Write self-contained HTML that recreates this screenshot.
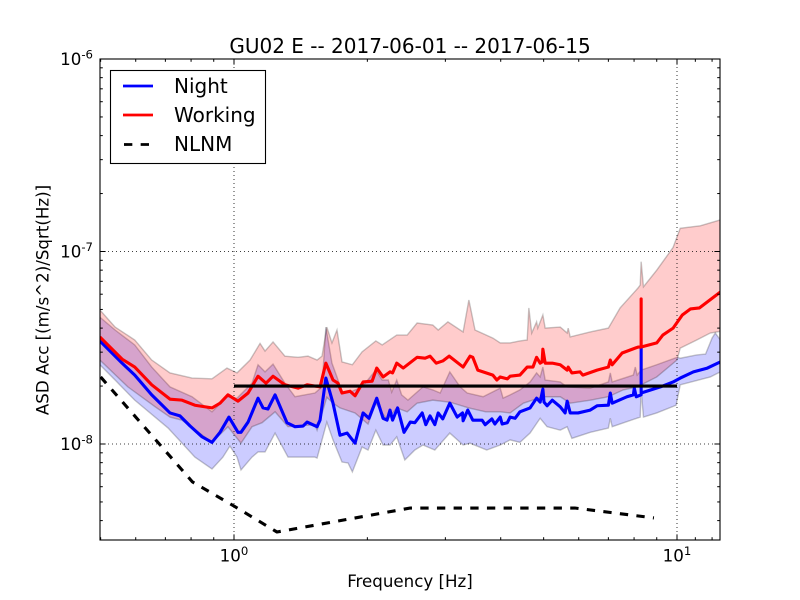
<!DOCTYPE html>
<html lang="en">
<head>
<meta charset="utf-8">
<title>GU02 E ASD chart</title>
<style>
  html, body { margin: 0; padding: 0; background: #fff; }
  svg { display: block; font-family: "DejaVu Sans", "Liberation Sans", sans-serif; }
  text { fill: #000; }
</style>
</head>
<body>
<svg id="chart" xmlns="http://www.w3.org/2000/svg" width="800" height="600" viewBox="0 0 800 600">
  <rect x="0" y="0" width="800" height="600" fill="#fff"/>
  <defs>
    <clipPath id="plot-clip"><rect x="100" y="59" width="620" height="481"/></clipPath>
  </defs>
  <g id="bands" clip-path="url(#plot-clip)"></g>
  <g id="grid"></g>
  <g id="lines" clip-path="url(#plot-clip)"></g>
  <g id="ticks"></g>
  <rect x="100" y="59" width="620" height="481" fill="none" stroke="#000" stroke-width="1.1"/>
  <g id="tick-labels"></g>
  <text x="410" y="53" font-size="20" text-anchor="middle">GU02 E -- 2017-06-01 -- 2017-06-15</text>
  <text x="410" y="587" font-size="16.67" text-anchor="middle">Frequency [Hz]</text>
  <text x="0" y="0" font-size="16.67" text-anchor="middle" transform="translate(48.5 300) rotate(-90)">ASD Acc [(m/s^2)/Sqrt(Hz)]</text>
  <g>
    <rect x="110.5" y="70.5" width="155" height="93" fill="#fff" stroke="#000" stroke-width="1.1"/>
    <line x1="123" x2="153" y1="86" y2="86" stroke="#0000ff" stroke-width="2.8"/>
    <text x="174" y="93" font-size="20">Night</text>
    <line x1="123" x2="153" y1="115" y2="115" stroke="#ff0000" stroke-width="2.8"/>
    <text x="174" y="122" font-size="20">Working</text>
    <line x1="124" x2="153" y1="144.5" y2="144.5" stroke="#000" stroke-width="2.8" stroke-dasharray="8.33 8.33"/>
    <text x="174" y="151" font-size="20">NLNM</text>
  </g>
</svg>
<script>
// All ASD values are in units of 1e-8 (m/s^2)/Sqrt(Hz); frequencies are in Hz.
const UNIT = 1e-8;

const workingUpperFreq = [0.498,0.539,0.597,0.652,0.717,0.804,0.892,0.964,1.016,1.087,1.145,1.175,1.225,1.303,1.395,1.469,1.54,1.58,1.62,1.664,1.708,1.753,1.85,1.946,2.09,2.16,2.33,2.46,2.59,2.81,2.89,3.04,3.29,3.39,3.5,3.84,3.99,4.2,4.42,4.59,4.63,4.7,4.82,4.85,4.98,5.04,5.45,5.65,5.68,5.74,6.37,7.0,7.44,8.17,8.26,8.3,8.4,9.0,9.8,10.17,11.29,12.53];
const workingUpperAsd = [4.97,4.05,3.47,2.73,2.34,2.2,2.18,2.48,2.34,2.73,3.33,3.04,3.39,2.86,2.82,2.86,2.73,2.86,4.05,3.35,3.91,2.67,2.58,3.01,3.43,3.27,3.68,3.68,4.25,4.15,3.91,4.31,3.82,5.6,3.91,3.55,3.35,3.35,3.43,3.47,5.09,3.77,4.31,4.0,4.68,4.0,4.05,3.77,4.0,3.6,3.82,4.0,5.09,6.47,6.7,8.85,6.55,8.0,10.5,13.2,13.6,14.6];

const workingLowerFreq = [0.498,0.576,0.664,0.717,0.763,0.892,0.969,1.037,1.098,1.157,1.238,1.324,1.523,1.54,1.62,1.673,1.735,1.876,2.007,2.09,2.215,2.33,2.46,2.59,2.81,3.07,3.39,3.7,3.99,4.2,4.5,4.98,5.45,5.74,6.37,7.0,7.56,8.13,9.0,10,10.17,11.08,11.89,12.53];
const workingLowerAsd = [2.73,1.98,1.56,1.38,1.33,1.02,1.23,1.01,1.23,1.29,1.47,1.23,1.26,1.18,1.75,1.63,1.54,1.45,1.27,1.63,1.33,1.54,1.47,1.63,1.69,1.65,1.54,1.47,1.47,1.45,1.63,1.76,1.76,1.63,1.69,1.76,1.91,1.98,2.23,2.73,3.15,3.47,3.77,3.85];

const nightUpperFreq = [0.498,0.539,0.597,0.652,0.717,0.804,0.892,0.964,1.016,1.098,1.133,1.175,1.225,1.303,1.373,1.523,1.58,1.612,1.664,1.708,1.753,1.828,1.946,2.09,2.16,2.23,2.27,2.33,2.39,2.47,2.67,2.81,2.92,3.07,3.24,3.36,3.65,3.99,4.05,4.2,4.42,4.66,4.82,4.91,4.98,5.04,5.45,5.65,6.37,7.0,7.07,7.14,7.97,8.05,8.13,8.3,9.0,10,10.17,11.08,11.6,12.0,12.2,12.53];
const nightUpperAsd = [4.56,3.91,3.27,2.51,1.98,1.76,1.47,1.76,1.73,2.07,2.58,2.37,2.6,2.07,1.76,1.84,1.98,4.05,2.63,2.23,1.86,1.86,1.98,2.42,2.15,2.15,1.86,2.15,1.8,1.69,1.98,1.91,1.84,2.37,1.98,1.84,1.76,1.95,1.73,1.8,1.91,2.1,2.34,2.23,2.51,2.15,2.1,1.98,1.95,2.1,2.34,2.1,2.28,2.51,2.28,2.42,2.58,2.82,2.79,2.9,2.93,3.55,3.77,3.47];

const nightLowerFreq = [0.498,0.539,0.597,0.71,0.816,0.892,0.944,0.979,1.016,1.037,1.098,1.133,1.175,1.238,1.324,1.523,1.54,1.58,1.62,1.673,1.753,1.809,1.85,1.946,2.007,2.09,2.17,2.25,2.33,2.43,2.56,2.67,2.84,3.07,3.29,3.41,3.72,3.99,4.2,4.42,4.66,4.91,5.09,5.45,5.65,5.79,6.37,7.0,7.07,7.14,8.26,8.3,8.4,9.0,9.95,10.17,11.89,12.53];
const nightLowerAsd = [2.58,2.15,1.69,1.21,0.855,0.742,0.855,0.976,0.855,0.733,0.855,0.909,0.909,1.14,0.855,0.855,0.845,1.05,1.3,1.05,0.806,0.797,0.716,0.965,0.931,1.18,0.988,0.988,1.09,0.826,0.931,0.988,0.931,1.14,0.988,1.01,0.931,0.988,1.05,1.02,1.14,1.36,1.23,1.18,1.23,1.07,1.15,1.21,1.36,1.23,1.38,1.91,1.38,1.45,1.59,2.03,2.23,2.37];

const workingMedianFreq = [0.498,0.559,0.597,0.652,0.717,0.763,0.816,0.892,0.93,0.969,1.021,1.076,1.133,1.181,1.225,1.303,1.395,1.462,1.564,1.612,1.673,1.717,1.753,1.828,1.876,1.956,2.05,2.1,2.17,2.25,2.28,2.33,2.41,2.59,2.7,2.77,2.86,2.96,3.06,3.29,3.41,3.46,3.55,3.84,3.92,3.99,4.14,4.2,4.42,4.59,4.73,4.82,4.91,4.96,4.98,5.04,5.23,5.45,5.65,5.68,5.79,6.04,6.13,6.6,7.0,7.07,7.14,7.52,8.17,8.3,8.3,8.3,9.0,9.29,9.8,10.28,10.72,11.23,12.53];
const workingMedianAsd = [3.6,2.76,2.51,2.03,1.71,1.69,1.59,1.54,1.63,1.8,1.67,1.84,2.25,2.07,2.25,2.03,1.95,2.03,1.98,2.63,2.15,2.07,1.84,1.88,1.78,2.1,2.12,2.48,2.23,2.37,2.34,2.63,2.48,2.82,2.79,2.86,2.63,2.7,2.86,2.51,2.86,2.82,2.42,2.28,2.15,2.23,2.18,2.25,2.28,2.51,2.51,2.82,2.63,2.67,3.11,2.63,2.63,2.58,2.42,2.51,2.34,2.37,2.28,2.42,2.51,2.73,2.58,2.97,3.19,3.19,5.67,3.19,3.35,3.68,4.0,4.68,5.03,5.09,6.16];

const nightMedianFreq = [0.498,0.559,0.597,0.652,0.681,0.717,0.755,0.796,0.847,0.892,0.93,0.974,1.021,1.037,1.076,1.133,1.163,1.193,1.238,1.317,1.373,1.432,1.462,1.54,1.564,1.612,1.673,1.735,1.8,1.876,1.956,2.017,2.1,2.17,2.215,2.25,2.28,2.34,2.42,2.5,2.56,2.66,2.71,2.77,2.84,2.89,2.96,3.07,3.19,3.28,3.29,3.37,3.46,3.63,3.69,3.82,3.88,3.99,4.03,4.14,4.2,4.31,4.42,4.66,4.82,4.91,4.98,5.01,5.09,5.23,5.45,5.59,5.65,5.74,5.98,6.37,6.6,7.0,7.07,7.14,7.71,7.97,8.01,8.09,8.3,8.3,8.3,9.17,9.8,10.17,10.89,11.71,12.53];
const nightMedianAsd = [3.43,2.63,2.28,1.8,1.63,1.45,1.4,1.24,1.09,1.02,1.15,1.38,1.15,1.15,1.3,1.73,1.54,1.52,1.8,1.29,1.23,1.24,1.3,1.23,1.33,2.2,1.63,1.11,1.14,1.01,1.45,1.36,1.73,1.36,1.33,1.5,1.33,1.54,1.15,1.3,1.29,1.45,1.26,1.4,1.26,1.45,1.35,1.63,1.38,1.45,1.32,1.5,1.33,1.33,1.26,1.35,1.27,1.38,1.27,1.29,1.38,1.36,1.47,1.54,1.73,1.65,1.93,1.65,1.58,1.69,1.56,1.45,1.67,1.45,1.45,1.5,1.58,1.59,1.84,1.63,1.76,1.8,1.95,1.76,1.8,3.15,1.84,1.98,2.1,2.2,2.37,2.48,2.67];

const nlnmFreq = [0.5,0.806,1.0,1.25,2.5,5.88,8.87];
const nlnmAsd = [2.23,0.635,0.476,0.349,0.465,0.465,0.413];

const referenceFreq = [1,10];
const referenceAsd = [2,2];

const xMajorTicks = [1,10];
const xMinorTicks = [0.5,0.6,0.7,0.8,0.9,2,3,4,5,6,7,8,9,11,12];
const xTickExponents = ["0","1"];
const yMajorTicks = [1e-8,1e-7,1e-6];
const yMinorTicks = [4e-9,5e-9,6e-9,7e-9,8e-9,9e-9,2e-8,3e-8,4e-8,5e-8,6e-8,7e-8,8e-8,9e-8,2e-7,3e-7,4e-7,5e-7,6e-7,7e-7,8e-7,9e-7];
const yTickExponents = ["-8","-7","-6"];

const AX = { left: 100, right: 720, top: 59, bottom: 540 };
const xScale = f => 234 + 443 * Math.log10(f);
const yScale = v => 444 - 192.5 * (Math.log10(v) + 8);
const yData = v => yScale(v * UNIT);

const NS = "http://www.w3.org/2000/svg";
function make(tag, parent, attrs) {
  const el = document.createElementNS(NS, tag);
  for (const k in attrs) el.setAttribute(k, attrs[k]);
  parent.appendChild(el);
  return el;
}
function linePath(freqs, vals) {
  return freqs.map((f, i) => (i ? "L" : "M") + xScale(f).toFixed(2) + " " + yData(vals[i]).toFixed(2)).join("");
}
function bandPath(upF, upV, loF, loV) {
  const back = loF.map((f, i) => "L" + xScale(f).toFixed(2) + " " + yData(loV[i]).toFixed(2)).reverse().join("");
  return linePath(upF, upV) + back + "Z";
}

const bands = document.getElementById("bands");
const lines = document.getElementById("lines");
const grid = document.getElementById("grid");
const ticks = document.getElementById("ticks");
const labels = document.getElementById("tick-labels");

// Bands
const nightBand = make("path", bands, { d: bandPath(nightUpperFreq, nightUpperAsd, nightLowerFreq, nightLowerAsd), fill: "rgba(0,0,255,0.2)", stroke: "rgba(0,0,0,0.22)", "stroke-width": 1.4 });


const workingBand = make("path", bands, { d: bandPath(workingUpperFreq, workingUpperAsd, workingLowerFreq, workingLowerAsd), fill: "rgba(255,0,0,0.2)", stroke: "rgba(0,0,0,0.22)", "stroke-width": 1.4 });



// Grid
xMajorTicks.forEach(t => {
  const g = make("line", grid, { x1: xScale(t), x2: xScale(t), y1: AX.top, y2: AX.bottom, stroke: "#000", "stroke-width": 0.8, "stroke-dasharray": "1 3" });
  
  
});
yMajorTicks.forEach(t => {
  const g = make("line", grid, { x1: AX.left, x2: AX.right, y1: yScale(t), y2: yScale(t), stroke: "#000", "stroke-width": 0.8, "stroke-dasharray": "1 3" });
  
  
});

// Lines
const lineStyle = { fill: "none", "stroke-width": 3.1, "stroke-linejoin": "round" };
const nightLine = make("path", lines, Object.assign({ d: linePath(nightMedianFreq, nightMedianAsd), stroke: "#0000ff" }, lineStyle));


const workingLine = make("path", lines, Object.assign({ d: linePath(workingMedianFreq, workingMedianAsd), stroke: "#ff0000" }, lineStyle));


const refLine = make("path", lines, Object.assign({ d: linePath(referenceFreq, referenceAsd), stroke: "#000" }, lineStyle));


const nlnmLine = make("path", lines, Object.assign({ d: linePath(nlnmFreq, nlnmAsd), stroke: "#000", "stroke-dasharray": "8.33 8.33" }, lineStyle));



// Ticks
function xTick(t, len) {
  const x = xScale(t);
  const a = make("line", ticks, { x1: x, x2: x, y1: AX.bottom, y2: AX.bottom - len, stroke: "#000", "stroke-width": 1 });
  
  
  const b = make("line", ticks, { x1: x, x2: x, y1: AX.top, y2: AX.top + len, stroke: "#000", "stroke-width": 1 });
  
  
}
function yTick(t, len) {
  const y = yScale(t);
  const a = make("line", ticks, { x1: AX.left, x2: AX.left + len, y1: y, y2: y, stroke: "#000", "stroke-width": 1 });
  
  
  const b = make("line", ticks, { x1: AX.right, x2: AX.right - len, y1: y, y2: y, stroke: "#000", "stroke-width": 1 });
  
  
}
xMajorTicks.forEach(t => xTick(t, 5.6));
xMinorTicks.forEach(t => xTick(t, 2.8));
yMajorTicks.forEach(t => yTick(t, 5.6));
yMinorTicks.forEach(t => yTick(t, 2.8));

// Tick labels
function tickLabel(x, y, anchor, exponent, name) {
  const txt = make("text", labels, { x: x, y: y, "text-anchor": anchor, "font-size": 16.67 });
  
  
  const base = make("tspan", txt, {});
  base.textContent = "10";
  const sup = make("tspan", txt, { dy: -6.5, "font-size": 11.7 });
  sup.textContent = exponent;
}
xMajorTicks.forEach((t, i) => tickLabel(xScale(t), 561.5, "middle", xTickExponents[i], "x-tick-label"));
yMajorTicks.forEach((t, i) => tickLabel(93, yScale(t) + 6, "end", yTickExponents[i], "y-tick-label"));
</script>
</body>
</html>
